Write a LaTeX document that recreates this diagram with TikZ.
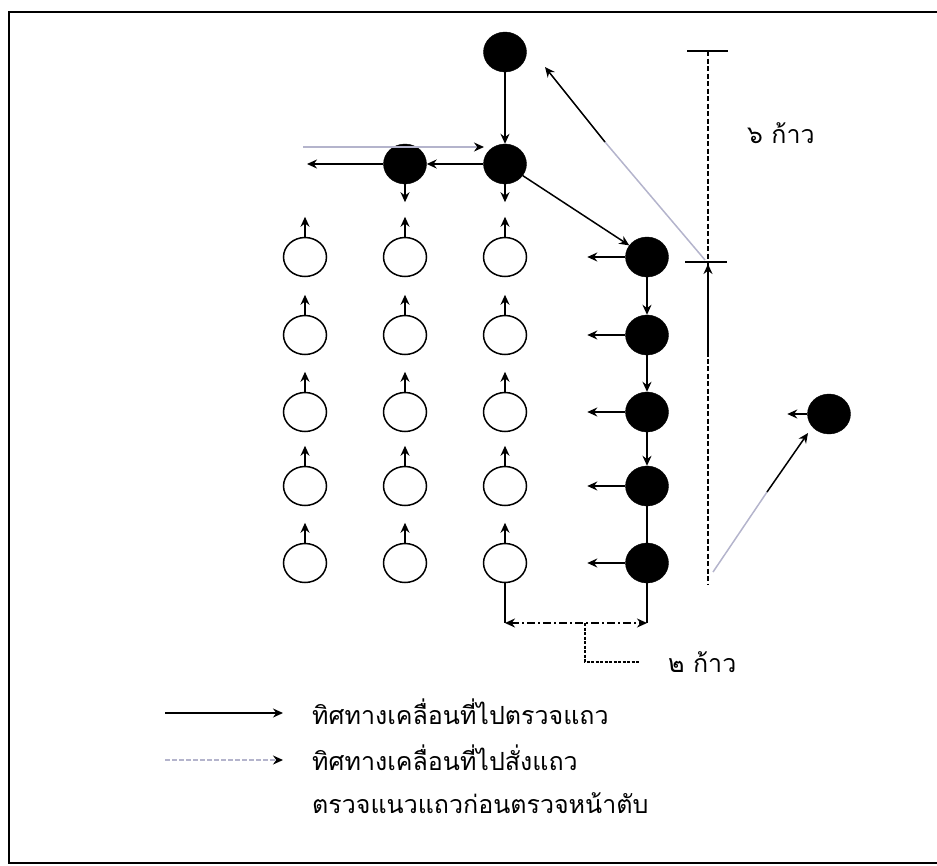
\documentclass[tikz,border=0pt]{standalone}
\usepackage{fontspec}
\newfontfamily\thaifont[Script=Thai]{Loma}
\usetikzlibrary{arrows.meta,shapes.geometric}
\definecolor{lgray}{HTML}{B4B4CC}
\tikzset{
  fb/.style={ellipse,fill=black,draw=black,minimum width=43pt,minimum height=40pt,inner sep=0pt},
  ob/.style={ellipse,draw=black,line width=1.5pt,minimum width=43pt,minimum height=39pt,inner sep=0pt},
  tip/.style={-{Stealth[length=10pt,width=9pt]}},
  arr/.style={line width=1.5pt,tip},
  garr/.style={line width=1.5pt,lgray,-{Stealth[length=10pt,width=9pt,color=black]}},
  ln/.style={line width=1.5pt},
  lbl/.style={font=\thaifont\fontsize{25pt}{28pt}\selectfont,inner sep=0pt,anchor=west}
}
\begin{document}
\begin{tikzpicture}[x=1pt,y=-1pt]
\useasboundingbox (0,0) rectangle (937,865);
% frame
\draw[line width=1.8pt] (937,12) -- (9,12) -- (9,863) -- (937,863);

% filled nodes
\node[fb] (T) at (505,52) {};
\node[fb] (M) at (505,164) {};
\node[fb] (L) at (405,164) {};
\node[fb] (R1) at (647,257) {};
\node[fb] (R2) at (647,335) {};
\node[fb] (R3) at (647,412) {};
\node[fb] (R4) at (647,486) {};
\node[fb] (R5) at (647,563) {};
\node[fb] (F) at (829,414) {};

% open nodes
\foreach \c/\x in {1/305,2/405,3/505}{
  \foreach \r/\y in {1/257,2/335,3/412,4/486,5/563}{
    \node[ob] (O\c\r) at (\x,\y) {};
    \draw[arr] (O\c\r.north) -- ++(0,-20);
  }
}

% top cluster
\draw[arr] (T) -- (M);
\draw[arr] (M) -- (L);
\coordinate (Lend) at (307,164);
\draw[arr] (L) -- (Lend);
\draw[arr] (L.south) -- ++(0,18);
\draw[arr] (M.south) -- ++(0,18);
\coordinate (Gs) at (303,147);
\coordinate (Ge) at (484,147);
\draw[garr] (Gs) -- (Ge);
\draw[arr] (M) -- (R1);

% right column
\draw[arr] (R1) -- (R2);
\draw[arr] (R2) -- (R3);
\draw[arr] (R3) -- (R4);
\draw[ln] (R4) -- (R5);
\foreach \i in {1,...,5}{
  \draw[arr] (R\i.west) -- ++(-38,0);
}
\draw[arr] (F.west) -- ++(-20,0);

% return line to top
\coordinate (Ra) at (705,260);
\coordinate (Rb) at (605,142);
\coordinate (Rc) at (545,67);
\draw[ln,lgray] (Ra) -- (Rb);
\draw[arr] (Rb) -- (Rc);

% line to far right node
\coordinate (Fa) at (713,572);
\coordinate (Fb) at (767,492);
\coordinate (Fc) at (808,433);
\draw[ln,lgray] (Fa) -- (Fb);
\draw[arr] (Fb) -- (Fc);

% dimension 6 steps
\coordinate (D1) at (708,51);
\coordinate (D2) at (708,585);
\draw[line width=1.5pt,dash pattern=on 5pt off 2.5pt] (D1) -- (D2);
\draw[line width=1.8pt] (687,51) -- (728,51);
\draw[line width=1.8pt] (685,262) -- (727,262);
\coordinate (Da) at (708,357);
\coordinate (Db) at (708,264);
\draw[arr] (Da) -- (Db);
\node[lbl] (six) at (747,133) {๖ ก้าว};

% dimension 2 steps
\coordinate (B1) at (505,623);
\coordinate (B2) at (647,623);
\draw[ln] (O35.south) -- (B1);
\draw[ln] (R5.south) -- (B2);
\draw[line width=1.5pt,dash pattern=on 8pt off 3pt on 2pt off 3pt,{Stealth[length=10pt,width=9pt]}-{Stealth[length=10pt,width=9pt]}] (B1) -- (B2);
\coordinate (B3) at (585,623);
\coordinate (B4) at (585,662);
\coordinate (B5) at (640,662);
\draw[line width=1.3pt,dash pattern=on 3pt off 1.5pt] (B3) -- (B4) -- (B5);
\node[lbl] (two) at (668,662) {๒ ก้าว};

% legend
\coordinate (K1) at (165,713);
\coordinate (K2) at (283,713);
\coordinate (K3) at (165,760);
\coordinate (K4) at (283,760);
\draw[arr] (K1) -- (K2);
\draw[garr,dash pattern=on 5pt off 2pt] (K3) -- (K4);
\node[lbl] (t1) at (312,712) {ทิศทางเคลื่อนที่ไปตรวจแถว};
\node[lbl] (t2) at (312,758) {ทิศทางเคลื่อนที่ไปสั่งแถว};
\node[lbl] (t3) at (312,803) {ตรวจแนวแถวก่อนตรวจหน้าตับ};
\end{tikzpicture}
\end{document}
